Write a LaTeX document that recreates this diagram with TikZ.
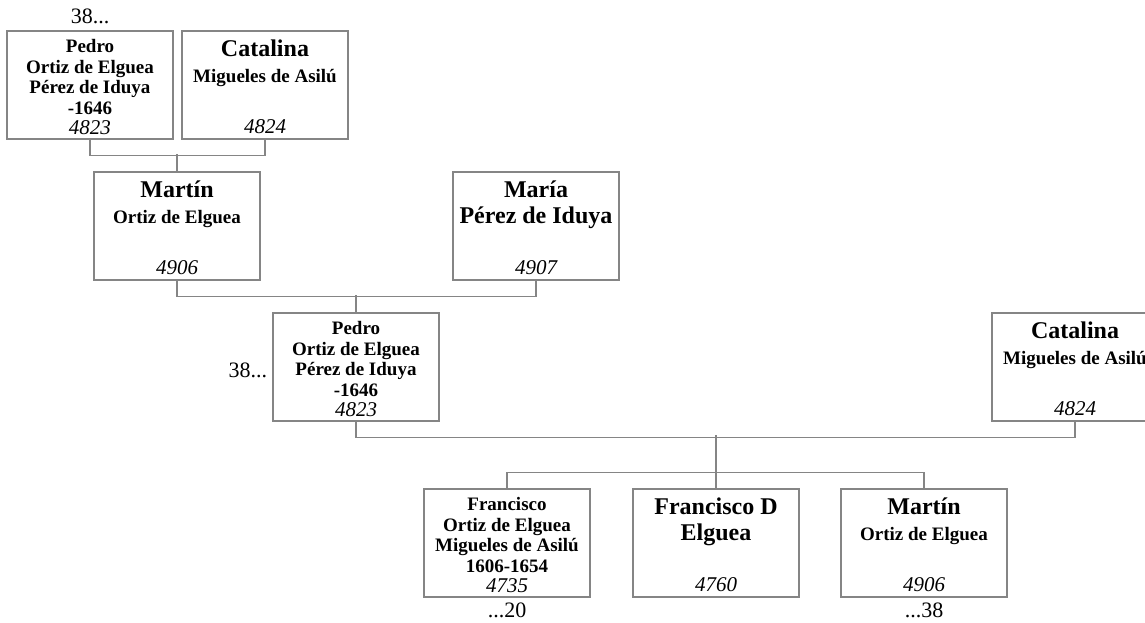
\documentclass[tikz,border=0pt]{standalone}
\usepackage{fontspec}
\setmainfont{Liberation Serif}
\usetikzlibrary{positioning}

\definecolor{boxgray}{HTML}{858585}
\newcommand{\bigname}{\fontsize{24}{26}\selectfont\bfseries}
\newcommand{\subname}{\fontsize{19}{26}\selectfont\bfseries}
\newcommand{\detname}{\fontsize{19}{20.5}\selectfont\bfseries}
\newcommand{\refno}{\fontsize{21}{20.5}\selectfont\itshape}
\newcommand{\card}[2]{\parbox[c][97pt][t]{164pt}{\centering\vspace*{3pt}#1\par\vfill{\refno #2\par}}}

\tikzset{
  person/.style={draw=boxgray, line width=1.3pt, inner sep=0pt, minimum width=166pt, minimum height=108pt},
  link/.style={draw=boxgray, line width=1.3pt},
  gen/.style={font=\fontsize{22}{22}\selectfont, inner sep=0pt}
}

\begin{document}
\begin{tikzpicture}[x=1pt, y=-1pt]
  \useasboundingbox (0,0) rectangle (1145,623);
  \clip (0,0) rectangle (1145,623);

  % great-grandparents
  \node[person] (pedroA) at (90,85) {\card{{\detname Pedro\par Ortiz de Elguea\par P\'erez de Iduya\par -1646\par}}{4823}};
  \node[person] (catalinaA) at (265,85) {\card{{\bigname Catalina\par}{\subname Migueles de Asil\'u\par}}{4824}};
  \node[gen, above=6pt of pedroA] (genA) {38...};

  % grandparents
  \node[person] (martinB) at (177,226) {\card{{\bigname Mart\'in\par}{\subname Ortiz de Elguea\par}}{4906}};
  \node[person] (mariaB) at (536,226) {\card{{\bigname Mar\'ia\par P\'erez de Iduya\par}}{4907}};

  % parents
  \node[person] (pedroC) at (356,367) {\card{{\detname Pedro\par Ortiz de Elguea\par P\'erez de Iduya\par -1646\par}}{4823}};
  \node[person] (catalinaC) at (1075,367) {\card{{\bigname Catalina\par}{\subname Migueles de Asil\'u\par}}{4824}};
  \node[gen, left=5pt of pedroC, yshift=-3pt] (genC) {38...};

  % children
  \node[person] (franciscoD) at (507,543) {\card{{\detname Francisco\par Ortiz de Elguea\par Migueles de Asil\'u\par 1606-1654\par}}{4735}};
  \node[person] (franciscoE) at (716,543) {\card{{\bigname Francisco D\par Elguea\par}}{4760}};
  \node[person] (martinF) at (924,543) {\card{{\bigname Mart\'in\par}{\subname Ortiz de Elguea\par}}{4906}};
  \node[gen, below=5pt of franciscoD] (genD) {...20};
  \node[gen, below=5pt of martinF] (genF) {...38};

  % Connections
  \draw[link] (pedroA.south) -- ++(0,16) -| (catalinaA.south);
  \draw[link] (martinB.north) -- ++(0,-17);
  \draw[link] (martinB.south) -- ++(0,16) -| (mariaB.south);
  \draw[link] (pedroC.north) -- ++(0,-17);
  \draw[link] (pedroC.south) -- ++(0,16) -| (catalinaC.south);
  \draw[link] (franciscoE.north) -- ++(0,-53);
  \draw[link] (franciscoD.north) -- ++(0,-16) -| (martinF.north);
\end{tikzpicture}
\end{document}
